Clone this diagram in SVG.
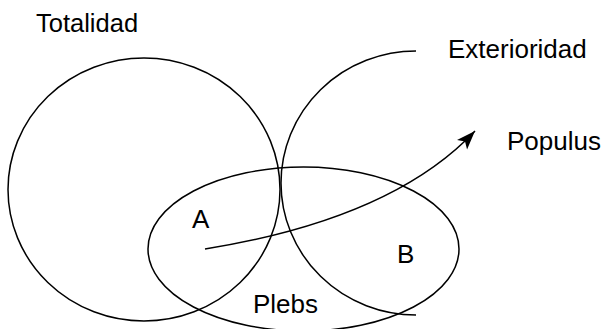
<svg xmlns="http://www.w3.org/2000/svg" width="605" height="329" viewBox="0 0 605 329">
<style>
.shape{fill:none;stroke:#000;stroke-width:1.5}
.lbl{font-family:"Liberation Sans",Arial,sans-serif;font-size:26px;fill:#000}
</style>
<defs>
<marker id="arrow" markerUnits="userSpaceOnUse" markerWidth="22" markerHeight="16" refX="19" refY="7" orient="auto">
<path d="M0,0 L19,7 L0,14 L4.5,7 Z" fill="#000"/>
</marker>
</defs>
<rect width="605" height="329" fill="#fff"/>
<g id="totalidad">
<ellipse class="shape" cx="144" cy="189.5" rx="136" ry="131.5"/>
<text class="lbl" x="36" y="32" style="font-size:25.5px">Totalidad</text>
</g>
<g id="exterioridad">
<path class="shape" d="M416,51 A135,132 0 0 0 416,315"/>
<text class="lbl" x="448" y="58">Exterioridad</text>
</g>
<g id="plebs">
<ellipse class="shape" cx="303.5" cy="249" rx="155.5" ry="82"/>
<text class="lbl" x="253" y="313">Plebs</text>
</g>
<g id="a">
<text class="lbl" x="192" y="228">A</text>
</g>
<g id="b">
<text class="lbl" x="397" y="263">B</text>
</g>
<g id="populus">
<text class="lbl" x="507" y="150">Populus</text>
</g>
<g id="connectors">
<path class="shape" stroke-width="1.8" d="M205,249 Q392,219 475,131" marker-end="url(#arrow)"/>
</g>
</svg>
